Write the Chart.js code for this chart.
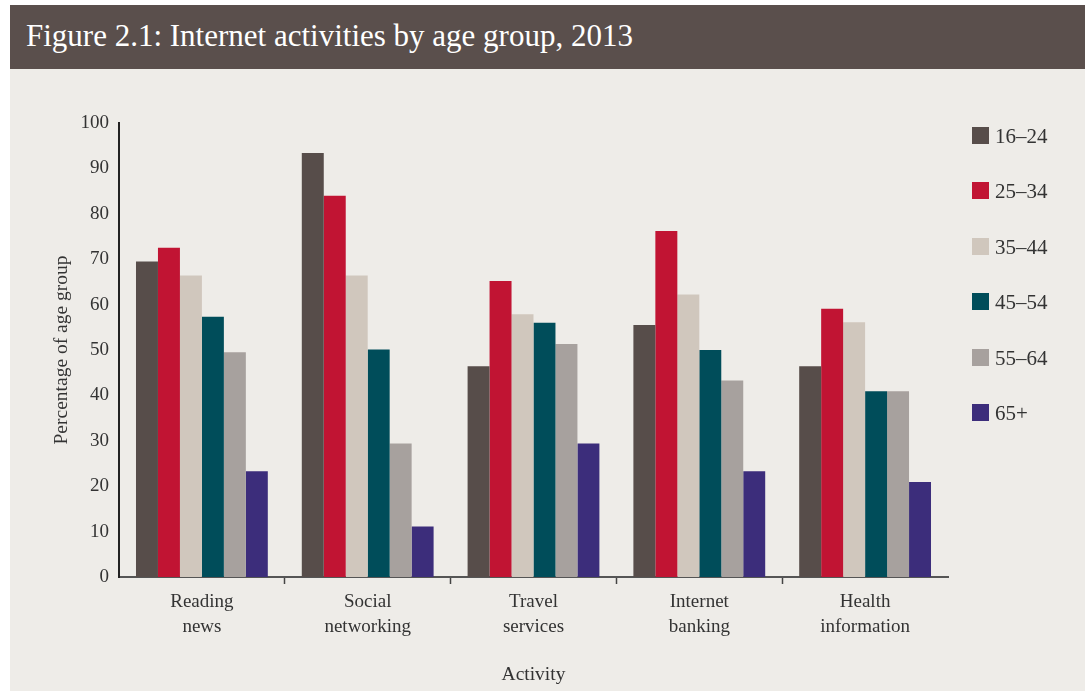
<!DOCTYPE html>
<html>
<head>
<meta charset="utf-8">
<script src="https://cdn.jsdelivr.net/npm/chart.js@4"></script>
<style>
  html, body { margin: 0; padding: 0; background: #ffffff; }
  body { width: 1085px; height: 691px; position: relative; overflow: hidden; font-family: "Liberation Serif", "DejaVu Serif", serif; }
  #panel { position: absolute; left: 10px; top: 5px; width: 1075px; height: 686px; background: #eeece8; }
  #title { position: absolute; left: 10px; top: 5px; width: 1075px; height: 64px; background: #5a4f4c;
           color: #ffffff; font-size: 31px; line-height: 62px; padding-left: 16px; box-sizing: border-box; }
  #wrap { position: absolute; left: 10px; top: 69px; width: 1075px; height: 622px; }
  #legend { position: absolute; left: 972px; top: 127px; margin: 0; padding: 0; list-style: none; }
  #legend li { height: 55.4px; display: flex; align-items: flex-start; font-size: 21px; color: #333; }
  #legend span.box { display: inline-block; width: 17px; height: 17px; margin-right: 6px; }
  #legend span.txt { line-height: 18px; }
</style>
</head>
<body>
<div id="panel"></div>
<div id="title">Figure 2.1: Internet activities by age group, 2013</div>
<div id="wrap"><canvas id="activity-chart"></canvas></div>
<ul id="legend"></ul>
<script>
  // data
  const activities = [["Reading", "news"], ["Social", "networking"], ["Travel", "services"], ["Internet", "banking"], ["Health", "information"]];
  const ageGroups = ["16–24", "25–34", "35–44", "45–54", "55–64", "65+"];
  const age16to24 = [69.5, 93.4, 46.4, 55.5, 46.4];
  const age25to34 = [72.5, 84.0, 65.2, 76.2, 59.1];
  const age35to44 = [66.4, 66.4, 57.9, 62.2, 56.1];
  const age45to54 = [57.3, 50.1, 56.0, 50.0, 40.9];
  const age55to64 = [49.5, 29.4, 51.3, 43.3, 40.9];
  const age65plus = [23.3, 11.1, 29.4, 23.3, 20.9];
  const yTicks = [0, 10, 20, 30, 40, 50, 60, 70, 80, 90, 100];

  const colours = ["#574d4a", "#c11433", "#d0c7bd", "#004d5a", "#a7a19e", "#3c2d7b"];
  const series = [age16to24, age25to34, age35to44, age45to54, age55to64, age65plus];

  const font = "'Liberation Serif', 'DejaVu Serif', serif";

  // html legend built from the chart's own datasets
  const htmlLegend = {
    id: 'htmlLegend',
    afterUpdate(chart) {
      const ul = document.getElementById('legend');
      ul.innerHTML = '';
      chart.data.datasets.forEach(ds => {
        const li = document.createElement('li');
        li.innerHTML = '<span class="box" style="background:' + ds.backgroundColor + '"></span><span class="txt">' + ds.label + '</span>';
        ul.appendChild(li);
      });
    }
  };

  new Chart(document.getElementById("activity-chart"), {
    type: 'bar',
    data: {
      labels: activities,
      datasets: ageGroups.map((g, i) => ({
        label: g,
        data: series[i],
        backgroundColor: colours[i],
        borderWidth: 0,
        barPercentage: 1,
        categoryPercentage: 0.795,
      })),
    },
    plugins: [htmlLegend],
    options: {
      responsive: true,
      maintainAspectRatio: false,
      animation: false,
      layout: {
        padding: { left: 40, right: 137, top: 54, bottom: 0 },
      },
      plugins: {
        legend: { display: false },
        tooltip: { enabled: false },
      },
      scales: {
        x: {
          afterFit: s => { s.height = 114; },
          border: { color: "#555", width: 2 },
          grid: {
            offset: true,
            drawOnChartArea: false,
            tickLength: 7,
            tickWidth: 1.5,
            tickColor: c => (c.index === undefined || c.index === 0) ? "rgba(0,0,0,0)" : "#444",
          },
          ticks: {
            color: "#333",
            padding: 5,
            maxRotation: 0,
            font: { family: font, size: 19, lineHeight: 1.35 },
          },
          title: {
            display: true,
            text: "Activity",
            color: "#333",
            padding: { top: 0, bottom: 4 },
            font: { family: font, size: 19.5 },
          },
        },
        y: {
          min: 0,
          max: 100,
          afterFit: s => { s.width = 69; },
          afterBuildTicks: s => { s.ticks = yTicks.map(v => ({ value: v })); },
          border: { color: "#222", width: 2 },
          grid: { display: false, drawTicks: false },
          ticks: {
            color: "#333",
            padding: 10,
            font: { family: font, size: 19 },
          },
          title: {
            display: true,
            text: "Percentage of age group",
            color: "#333",
            padding: 0,
            font: { family: font, size: 19.5 },
          },
        },
      },
    },
  });
</script>
</body>
</html>
